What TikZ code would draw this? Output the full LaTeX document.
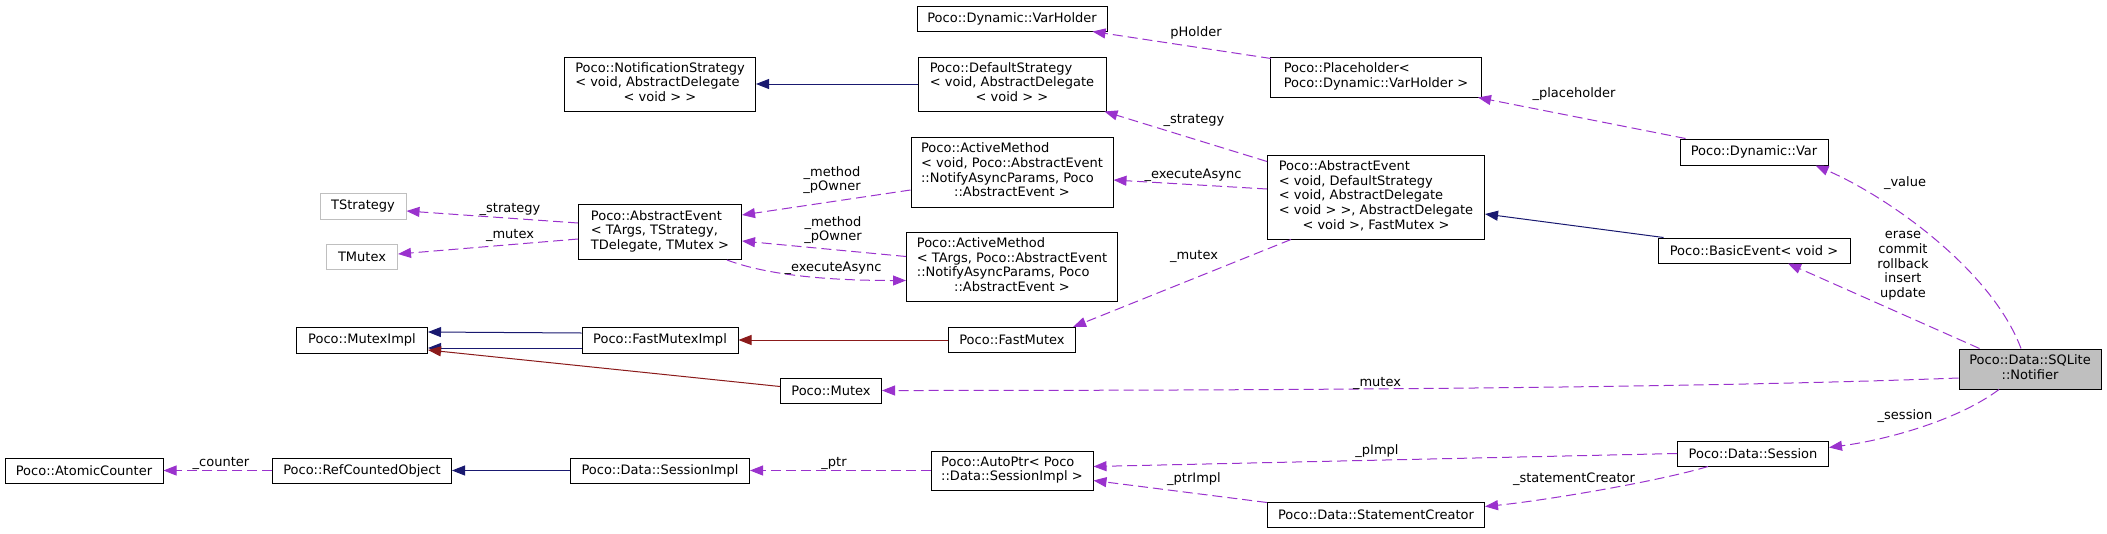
\documentclass[tikz,border=0pt]{standalone}
\usepackage{fontspec}
\setmainfont{DejaVu Sans}
\usetikzlibrary{arrows.meta}
\definecolor{inhblue}{RGB}{25,25,112}
\definecolor{inhred}{RGB}{139,26,26}
\definecolor{usepurple}{RGB}{154,50,205}
\definecolor{undocgray}{RGB}{191,191,191}
% class label: left aligned lines, last line centred
\newcommand{\ml}[2]{\begin{tabular}{@{}l@{}}#1\\\multicolumn{1}{@{}c@{}}{#2}\end{tabular}}

\begin{document}
\begin{tikzpicture}[x=1pt, y=-1pt, font=\fontsize{13}{14.7}\selectfont,
  cls/.style 2 args={draw=black, fill=white, line width=1pt, inner sep=0pt,
               minimum width=#1pt, minimum height=#2pt, align=center},
  undoc/.style={draw=undocgray},
  elab/.style={inner sep=0pt, align=center},
  inhpub/.style={draw=inhblue, line width=1pt,
               -{Triangle[length=13pt,width=10pt]}},
  inhprot/.style={draw=inhred, line width=1pt,
               -{Triangle[length=13pt,width=10pt]}},
  usage/.style={draw=usepurple, line width=1pt, dash pattern=on 10pt off 5pt,
               -{Triangle[length=13pt,width=10pt]}}
]
  \useasboundingbox (0,0) rectangle (2107,533);
  % classes
  \node[cls={190}{25}] (varholder) at (1012,18.5) {Poco::Dynamic::VarHolder};
  \node[cls={191}{54}] (notifstrat) at (660,84)
        {\ml{Poco::NotificationStrategy\\< void, AbstractDelegate}{< void > >}};
  \node[cls={188}{54}] (defstrat) at (1012,84)
        {\ml{Poco::DefaultStrategy\\< void, AbstractDelegate}{< void > >}};
  \node[cls={211}{40}] (placeholder) at (1376,77)
        {\ml{Poco::Placeholder<}{Poco::Dynamic::VarHolder >}};
  \node[cls={202}{70}] (actvoid) at (1012,172)
        {\ml{Poco::ActiveMethod\\< void, Poco::AbstractEvent\\::NotifyAsyncParams, Poco}{::AbstractEvent >}};
  \node[cls={217}{84}] (aevoid) at (1376,197)
        {\ml{Poco::AbstractEvent\\< void, DefaultStrategy\\< void, AbstractDelegate\\< void > >, AbstractDelegate}{< void >, FastMutex >}};
  \node[cls={148}{26}] (var) at (1754,152) {Poco::Dynamic::Var};
  \node[cls={86}{26}, undoc] (tstrategy) at (363,206) {TStrategy};
  \node[cls={71}{25}, undoc] (tmutex) at (362,257) {TMutex};
  \node[cls={163}{55}] (aetargs) at (660,232)
        {\ml{Poco::AbstractEvent\\< TArgs, TStrategy,}{TDelegate, TMutex >}};
  \node[cls={211}{69}] (acttargs) at (1012,266.5)
        {\ml{Poco::ActiveMethod\\< TArgs, Poco::AbstractEvent\\::NotifyAsyncParams, Poco}{::AbstractEvent >}};
  \node[cls={192}{25}] (basicevent) at (1754,250.5) {Poco::BasicEvent< void >};
  \node[cls={131}{26}] (muteximpl) at (362,340) {Poco::MutexImpl};
  \node[cls={156}{26}] (fastmuteximpl) at (660,340) {Poco::FastMutexImpl};
  \node[cls={127}{25}] (fastmutex) at (1012,340) {Poco::FastMutex};
  \node[cls={142}{40}, fill=undocgray] (notifier) at (2030,369)
        {\ml{Poco::Data::SQLite}{::Notifier}};
  \node[cls={101}{25}] (mutex) at (831,390.5) {Poco::Mutex};
  \node[cls={158}{25}] (atomic) at (84,470.5) {Poco::AtomicCounter};
  \node[cls={179}{25}] (refcounted) at (362,470.5) {Poco::RefCountedObject};
  \node[cls={179}{25}] (sessionimpl) at (660,470.5) {Poco::Data::SessionImpl};
  \node[cls={162}{39}] (autoptr) at (1012,470.5)
        {\ml{Poco::AutoPtr< Poco}{::Data::SessionImpl >}};
  \node[cls={151}{25}] (session) at (1753,453.5) {Poco::Data::Session};
  \node[cls={217}{25}] (stmtcreator) at (1376,514.5) {Poco::Data::StatementCreator};

  % inheritance
  \draw[inhpub] (defstrat.west) -- (notifstrat.east);
  \draw[inhpub] ([xshift=6pt]basicevent.north west) -- ([yshift=-17pt]aevoid.east);
  \draw[inhpub] ([yshift=7pt]fastmuteximpl.west) -- ([yshift=8pt]muteximpl.east);
  \draw[inhpub] ([yshift=-8pt]fastmuteximpl.west) -- ([yshift=-8pt]muteximpl.east);
  \draw[inhpub] (sessionimpl.west) -- (refcounted.east);
  \draw[inhprot] (fastmutex.west) -- (fastmuteximpl.east);
  \draw[inhprot] ([yshift=4pt]mutex.west) -- ([yshift=-10pt]muteximpl.east);

  % usage
  \draw[usage] ([xshift=1pt,yshift=-2pt]placeholder.north west) -- ([xshift=-15pt]varholder.south east);
  \draw[usage] ([yshift=-7pt]aevoid.north west) -- ([xshift=-2pt]defstrat.south east);
  \draw[usage] ([xshift=6pt]var.north west) -- ([xshift=-4pt]placeholder.south east);
  \draw[usage] ([yshift=8pt]aevoid.west) -- ([yshift=-8pt]actvoid.east);
  \draw[usage] ([yshift=9pt]aetargs.west) -- ([yshift=-5pt]tstrategy.east);
  \draw[usage] ([yshift=-7pt]aetargs.west) -- ([yshift=3pt]tmutex.east);
  \draw[usage] ([yshift=-18pt]actvoid.west) -- ([yshift=17pt]aetargs.east);
  \draw[usage] ([yshift=10pt]acttargs.west) -- ([yshift=-9pt]aetargs.east);
  \draw[usage] ([xshift=67pt]aetargs.south) .. controls +(40,15) and +(-80,0) .. ([yshift=-14pt]acttargs.west);
  \draw[usage] ([xshift=24pt]aevoid.south west) -- ([xshift=-3pt]fastmutex.north east);
  \draw[usage] ([xshift=-9pt]notifier.north) .. controls +(-30,-80) and +(70,30) .. ([xshift=-13pt]var.south east);
  \draw[usage] ([xshift=21pt]notifier.north west) -- ([xshift=34pt]basicevent.south);
  \draw[usage] ([yshift=-9pt]notifier.west) .. controls +(-260,10) and +(400,0) .. (mutex.east);
  \draw[usage] ([xshift=-31pt]notifier.south) .. controls +(-40,30) and +(60,-8) .. ([yshift=6pt]session.east);
  \draw[usage] (refcounted.west) -- (atomic.east);
  \draw[usage] (autoptr.west) -- (sessionimpl.east);
  \draw[usage] (session.west) -- ([yshift=4pt]autoptr.east);
  \draw[usage] ([yshift=-1pt]stmtcreator.north west) -- ([yshift=-10pt]autoptr.east);
  \draw[usage] ([xshift=31pt]session.south west) .. controls +(-50,15) and +(60,-6) .. ([yshift=8pt]stmtcreator.east);

  % edge labels
  \node[elab] (lpholder) at (1196,33) {pHolder};
  \node[elab] (lstrat1) at (1194,120) {\_strategy};
  \node[elab] (lplace) at (1574,94) {\_placeholder};
  \node[elab] (lexec1) at (1193,175) {\_executeAsync};
  \node[elab] (lstrat2) at (510,209) {\_strategy};
  \node[elab] (lmutex1) at (510,235) {\_mutex};
  \node[elab] (lmeth1) at (832,180) {\_method\\\_pOwner};
  \node[elab] (lmeth2) at (833,230) {\_method\\\_pOwner};
  \node[elab] (lexec2) at (833,268) {\_executeAsync};
  \node[elab] (lmutex2) at (1194,256) {\_mutex};
  \node[elab] (lvalue) at (1905,183) {\_value};
  \node[elab] (levents) at (1903,266) {erase\\commit\\rollback\\insert\\update};
  \node[elab] (lmutex3) at (1377,383) {\_mutex};
  \node[elab] (lsession) at (1905,416) {\_session};
  \node[elab] (lcounter) at (221,463) {\_counter};
  \node[elab] (lptr) at (834,463) {\_ptr};
  \node[elab] (lpimpl) at (1377,451) {\_pImpl};
  \node[elab] (lptrimpl) at (1194,479) {\_ptrImpl};
  \node[elab] (lstmt) at (1574,479) {\_statementCreator};
\end{tikzpicture}
\end{document}
